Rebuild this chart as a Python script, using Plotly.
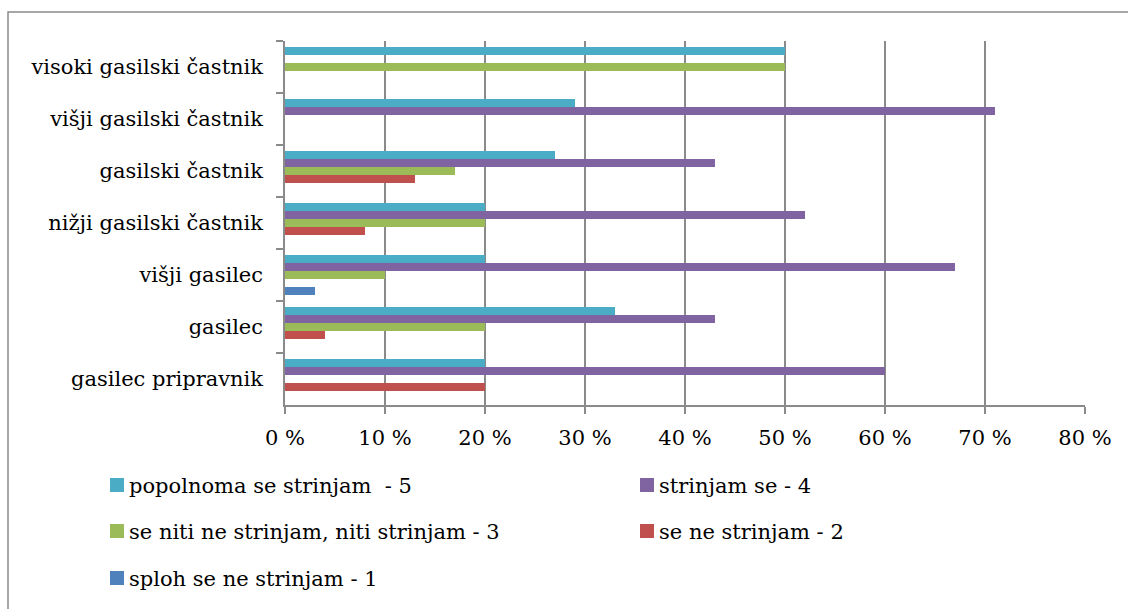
import plotly.graph_objects as go

# Ranks, listed top to bottom as they appear on the axis
categories = [
    "visoki gasilski častnik",
    "višji gasilski častnik",
    "gasilski častnik",
    "nižji gasilski častnik",
    "višji gasilec",
    "gasilec",
    "gasilec pripravnik",
]

series_names = [
    "popolnoma se strinjam \u00a0- 5",
    "strinjam se - 4",
    "se niti ne strinjam, niti strinjam - 3",
    "se ne strinjam - 2",
    "sploh se ne strinjam - 1",
]

# Share of answers (%) per rank
popolnoma = [50, 29, 27, 20, 20, 33, 20]
strinjam = [0, 71, 43, 52, 67, 43, 60]
niti = [50, 0, 17, 20, 10, 20, 0]
ne_strinjam = [0, 0, 13, 8, 0, 4, 20]
sploh = [0, 0, 0, 0, 3, 0, 0]

series_values = [popolnoma, strinjam, niti, ne_strinjam, sploh]
colors = ["#4BACC6", "#8064A2", "#9BBB59", "#C0504D", "#4F81BD"]

x_ticks = [0, 10, 20, 30, 40, 50, 60, 70, 80]

W, H = 1128, 609
ML, MR, MT, MB = 285, 43, 41, 204
FONT = "DejaVu Serif"
FS = 21
GRID = "#8a8a8a"

fig = go.Figure()
for name, vals, col in zip(series_names, series_values, colors):
    fig.add_trace(go.Bar(
        y=categories, x=vals, name=name, orientation="h",
        marker=dict(color=col, line=dict(width=0)),
        showlegend=False,
    ))

# pixel -> paper helpers for the legend block and frame
def px(xp):
    return (xp - ML) / (W - ML - MR)

def py(yp):
    return (H - MB - yp) / (H - MT - MB)

shapes = [dict(type="rect", xref="paper", yref="paper",
               x0=px(8), x1=px(1131), y0=py(12), y1=py(612),
               line=dict(color=GRID, width=1.5), layer="below")]
annotations = []

legend_pos = [(110, 485), (640, 485), (110, 531), (640, 531), (110, 578)]
for (lx, ly), name, col in zip(legend_pos, series_names, colors):
    shapes.append(dict(type="rect", xref="paper", yref="paper",
                       x0=px(lx), x1=px(lx + 14), y0=py(ly - 7), y1=py(ly + 7),
                       fillcolor=col, line=dict(width=0)))
    annotations.append(dict(xref="paper", yref="paper", x=px(lx + 17), y=py(ly + 1),
                            xanchor="left", yanchor="middle", showarrow=False,
                            text=name, font=dict(family=FONT, size=FS, color="#000")))

fig.update_layout(
    width=W, height=H,
    margin=dict(l=ML, r=MR, t=MT, b=MB),
    paper_bgcolor="white", plot_bgcolor="white",
    barmode="group", bargap=0.23, bargroupgap=0,
    font=dict(family=FONT, size=FS, color="#000"),
    shapes=shapes, annotations=annotations,
)
fig.update_xaxes(
    range=[0, 80], tickvals=x_ticks, ticktext=[f"{v} %" for v in x_ticks],
    showgrid=True, gridcolor=GRID, gridwidth=1.5,
    zeroline=False, showline=True, linecolor=GRID, linewidth=1.5,
    ticks="outside", ticklen=7, tickcolor=GRID, tickwidth=1.5,
    ticklabelstandoff=6,
    tickfont=dict(family=FONT, size=FS, color="#000"),
)
fig.update_yaxes(
    autorange="reversed", categoryorder="array", categoryarray=categories,
    showgrid=False, showline=True, linecolor=GRID, linewidth=1.5,
    ticks="outside", ticklen=7, tickcolor=GRID, tickwidth=1.5, tickson="boundaries",
    ticklabelstandoff=16,
    tickfont=dict(family=FONT, size=FS, color="#000"),
)

fig.write_html("out.html")
